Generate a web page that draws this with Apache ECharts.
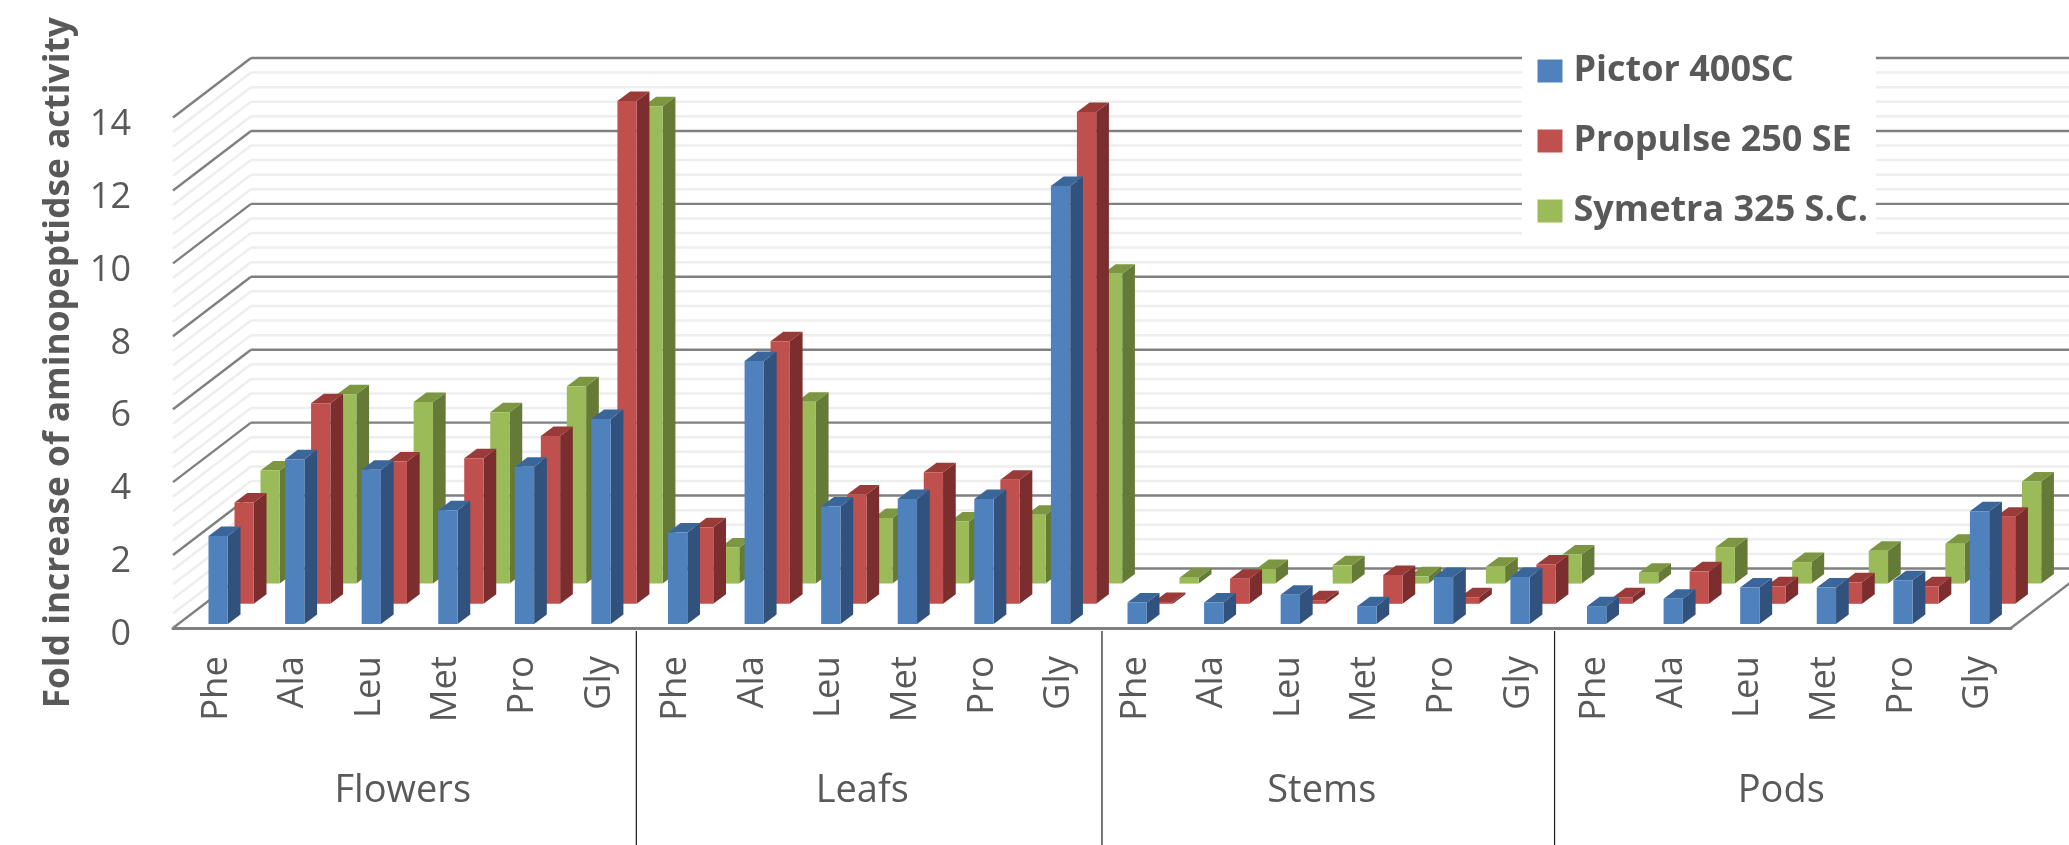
<!DOCTYPE html>
<html>
<head>
<meta charset="utf-8">
<style>html,body{margin:0;padding:0;background:#fff}#chart{width:2069px;height:845px}</style>
<script src="https://cdn.jsdelivr.net/npm/echarts@6/dist/echarts.min.js"></script>
</head>
<body>
<div id="chart"></div>
<script>
// Amino acids repeated per plant organ
const aminoAcids = ['Phe','Ala','Leu','Met','Pro','Gly'];
const organs = ['Flowers','Leafs','Stems','Pods'];
const categories = organs.flatMap(() => aminoAcids);

// Fold increase of aminopeptidase activity, organ by organ
const pictor   = [2.41,4.52,4.23,3.12,4.31,5.62, 2.51,7.21,3.22,3.43,3.43,12.01, 0.59,0.59,0.80,0.49,1.29,1.29, 0.49,0.69,1.00,1.00,1.20,3.09];
const propulse = [2.78,5.50,3.90,3.99,4.60,13.79, 2.10,7.20,3.00,3.61,3.40,13.49, 0.05,0.69,0.10,0.79,0.18,1.08, 0.18,0.89,0.48,0.59,0.48,2.39];
const symetra  = [3.10,5.19,4.98,4.70,5.41,13.09, 0.99,4.99,1.80,1.70,1.89,8.50, 0.16,0.40,0.50,0.20,0.46,0.80, 0.30,1.00,0.59,0.90,1.09,2.80];

// Wall rulings: light every 0.4, dark on each labelled value
const wallLevels = [0.4,0.8,1.2,1.6,2.4,2.8,3.2,3.6,4.4,4.8,5.2,5.6,6.4,6.8,7.2,7.6,8.4,8.8,9.2,9.6,10.4,10.8,11.2,11.6,12.4,12.8,13.2,13.6,0,2,4,6,8,10,12,14];
// Where the organ dividers sit, counted in category cells from the left
const dividerCells = [6.05,12.13,18.04];

// Oblique projection of the floor depth
const DEPTH_X = 78, DEPTH_Y = 59.5;
const SLOT_X = 26, SLOT_Y = 20.2;
const BAR_W = 19.3, BAR_DX = 12.7, BAR_DY = 9.5;
const START_X = 6.85, START_Y = 4;

const TEXT = '#595959', MAJOR = '#808080', MINOR = '#eeeeee';

function barRenderer(slot, front, side, top) {
  return function (params, api) {
    const i = api.value(0), v = api.value(1);
    const base = api.coord([i, 0]), tip = api.coord([i, v]);
    const lift = START_Y + slot * SLOT_Y;
    const x0 = base[0] - BAR_W / 2 + START_X + slot * SLOT_X, x1 = x0 + BAR_W;
    const y0 = base[1] - lift, y1 = tip[1] - lift;
    const poly = (points, fill) => ({type: 'polygon', shape: {points}, style: {fill}});
    return {type: 'group', children: [
      poly([[x1,y0],[x1+BAR_DX,y0-BAR_DY],[x1+BAR_DX,y1-BAR_DY],[x1,y1]], side),
      poly([[x0,y1],[x1,y1],[x1+BAR_DX,y1-BAR_DY],[x0+BAR_DX,y1-BAR_DY]], top),
      poly([[x0,y0],[x1,y0],[x1,y1],[x0,y1]], front)
    ]};
  };
}

function wallRenderer(params, api) {
  const v = api.value(1);
  const cell = api.size([1, 0])[0];
  const left = api.coord([0, v]);
  const right = api.coord([categories.length - 1, v]);
  const xl = left[0] - cell / 2, xr = right[0] + cell / 2, y = left[1];
  const major = Number.isInteger(v / 2);
  const style = {stroke: major ? MAJOR : MINOR, lineWidth: major ? 2.4 : 2.5, fill: null};
  const seg = (x1, y1, x2, y2) => ({type: 'line', shape: {x1, y1, x2, y2}, style});
  const children = [
    seg(xl, y, xl + DEPTH_X, y - DEPTH_Y),
    seg(xl + DEPTH_X, y - DEPTH_Y, xr + DEPTH_X, y - DEPTH_Y)
  ];
  if (v === 0) children.push(seg(xr, y, xr + DEPTH_X, y - DEPTH_Y));
  return {type: 'group', children};
}

function dividerRenderer(params, api) {
  const cell = api.size([1, 0])[0];
  const origin = api.coord([0, 0]);
  const x = origin[0] - cell / 2 + api.value(1) * cell;
  return {type: 'line',
    shape: {x1: x, y1: origin[1] + 3, x2: x, y2: api.getHeight()},
    style: {stroke: '#1a1a1a', lineWidth: 1.2}};
}

const toBars = values => values.map((v, i) => [i, v]);

const chart = echarts.init(document.getElementById('chart'), null, {renderer: 'canvas'});
chart.setOption({
  animation: false,
  backgroundColor: '#ffffff',
  grid: {left: 173, right: 58, top: 117.5, bottom: 217, containLabel: false},
  legend: {
    data: ['Pictor 400SC', 'Propulse 250 SE', 'Symetra 325 S.C.'],
    orient: 'vertical', left: 1522, top: 45,
    icon: 'rect', itemWidth: 25, itemHeight: 23, itemGap: 34,
    padding: [8, 8, 11, 15.5],
    backgroundColor: '#ffffff', selectedMode: false,
    textStyle: {fontFamily: 'Open Sans', fontWeight: 'bold', fontSize: 36, color: TEXT, padding: [0, 0, 0, 6]}
  },
  xAxis: [{
    type: 'category', data: categories, gridIndex: 0, position: 'bottom',
    axisTick: {show: false},
    axisLine: {show: true, lineStyle: {color: MAJOR, width: 3}},
    axisLabel: {interval: 0, rotate: 90, margin: 28, fontFamily: 'Open Sans', fontSize: 36.5, color: TEXT,
      verticalAlign: 'top', lineHeight: 10}
  }, {
    type: 'category', data: organs, gridIndex: 0, position: 'bottom',
    axisTick: {show: false}, axisLine: {show: false}, splitLine: {show: false},
    axisLabel: {interval: 0, margin: 144, fontFamily: 'Open Sans', fontSize: 38, color: TEXT}
  }],
  yAxis: {
    type: 'value', min: 0, max: 14, interval: 2,
    axisLine: {show: false}, axisTick: {show: false}, splitLine: {show: false},
    axisLabel: {margin: 42, fontFamily: 'Open Sans', fontSize: 36, color: TEXT,
      verticalAlign: 'top', lineHeight: 14},
    name: 'Fold increase of aminopeptidse activity',
    nameLocation: 'middle', nameRotate: 90, nameGap: 97,
    nameTextStyle: {fontFamily: 'Open Sans', fontWeight: 'bold', fontSize: 35.3, color: TEXT, padding: [0, 0, 0, 20]}
  },
  series: [
    {type: 'custom', name: 'walls', silent: true, z: 1, renderItem: wallRenderer,
      data: wallLevels.map(v => [0, v]), encode: {x: 0, y: 1}},
    {type: 'custom', name: 'dividers', silent: true, z: 1, renderItem: dividerRenderer,
      data: dividerCells.map(c => [0, c]), encode: {x: 0}},
    {type: 'custom', name: 'Symetra 325 S.C.', z: 2, itemStyle: {color: '#9BBB59'},
      renderItem: barRenderer(2, '#9BBB59', '#667A37', '#7C9641'),
      data: toBars(symetra), encode: {x: 0, y: 1}},
    {type: 'custom', name: 'Propulse 250 SE', z: 3, itemStyle: {color: '#C0504D'},
      renderItem: barRenderer(1, '#C0504D', '#7B2E2D', '#9A3B39'),
      data: toBars(propulse), encode: {x: 0, y: 1}},
    {type: 'custom', name: 'Pictor 400SC', z: 4, itemStyle: {color: '#4F81BD'},
      renderItem: barRenderer(0, '#4F81BD', '#30527C', '#3B669A'),
      data: toBars(pictor), encode: {x: 0, y: 1}}
  ]
});
</script>
</body>
</html>
